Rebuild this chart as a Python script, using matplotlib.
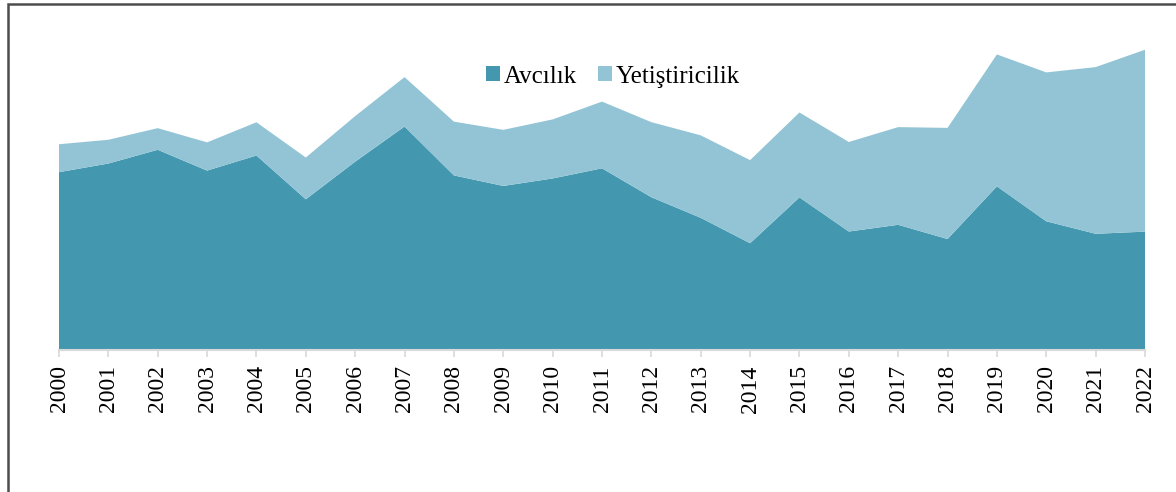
import matplotlib.pyplot as plt
from matplotlib.patches import Rectangle

plt.rcParams['font.family'] = ['Liberation Serif', 'DejaVu Serif']

years = list(range(2000, 2023))
# tonnes
avcilik = [503345, 527733, 566682, 507732, 550482, 426496, 533048, 632467,
           494124, 464341, 485472, 514253, 432439, 374121, 302212, 431907,
           335320, 354318, 314094, 463168, 364256, 328934, 335003]
yetistiricilik = [79031, 67244, 61165, 79943, 94010, 118277, 128943, 139873,
                  152186, 158729, 167141, 188790, 212410, 233394, 235133, 240334,
                  253395, 276502, 314537, 373356, 421411, 471686, 514805]

c1 = '#4398AF'
c2 = '#93C4D5'

fig = plt.figure(figsize=(11.76, 4.92), dpi=100)
ax = fig.add_axes([59/1176, 142/492, (1145-59)/1176, (350-32)/492])

ax.stackplot(years, avcilik, yetistiricilik, colors=[c1, c2],
             labels=['Avcılık', 'Yetiştiricilik'], linewidth=0)

ax.set_xlim(2000, 2022)
ax.set_ylim(0, 900000)
ax.set_yticks([])
ax.set_xticks(years)
ax.set_xticklabels([str(y) for y in years], rotation=90, fontsize=17)
ax.tick_params(axis='x', length=5, width=1.2, color='#D9D9D9', pad=6)
for s in ['top', 'right', 'left']:
    ax.spines[s].set_visible(False)
ax.spines['bottom'].set_color('#D9D9D9')
ax.spines['bottom'].set_linewidth(1.5)

leg = ax.legend(loc='upper center', bbox_to_anchor=(0.51, 0.965), ncol=2,
                frameon=False, fontsize=18, handlelength=0.55, handleheight=0.55,
                handletextpad=0.15, columnspacing=0.85)

# outer frame (clipped by the image edge on right and bottom)
fig.patches.append(Rectangle((7.5/1176, -0.1), 1.2, 1 - 3.5/492 + 0.1,
                             transform=fig.transFigure, fill=False,
                             edgecolor='#4D4D4D', linewidth=1.8))

fig.savefig('out.png', dpi=100)
